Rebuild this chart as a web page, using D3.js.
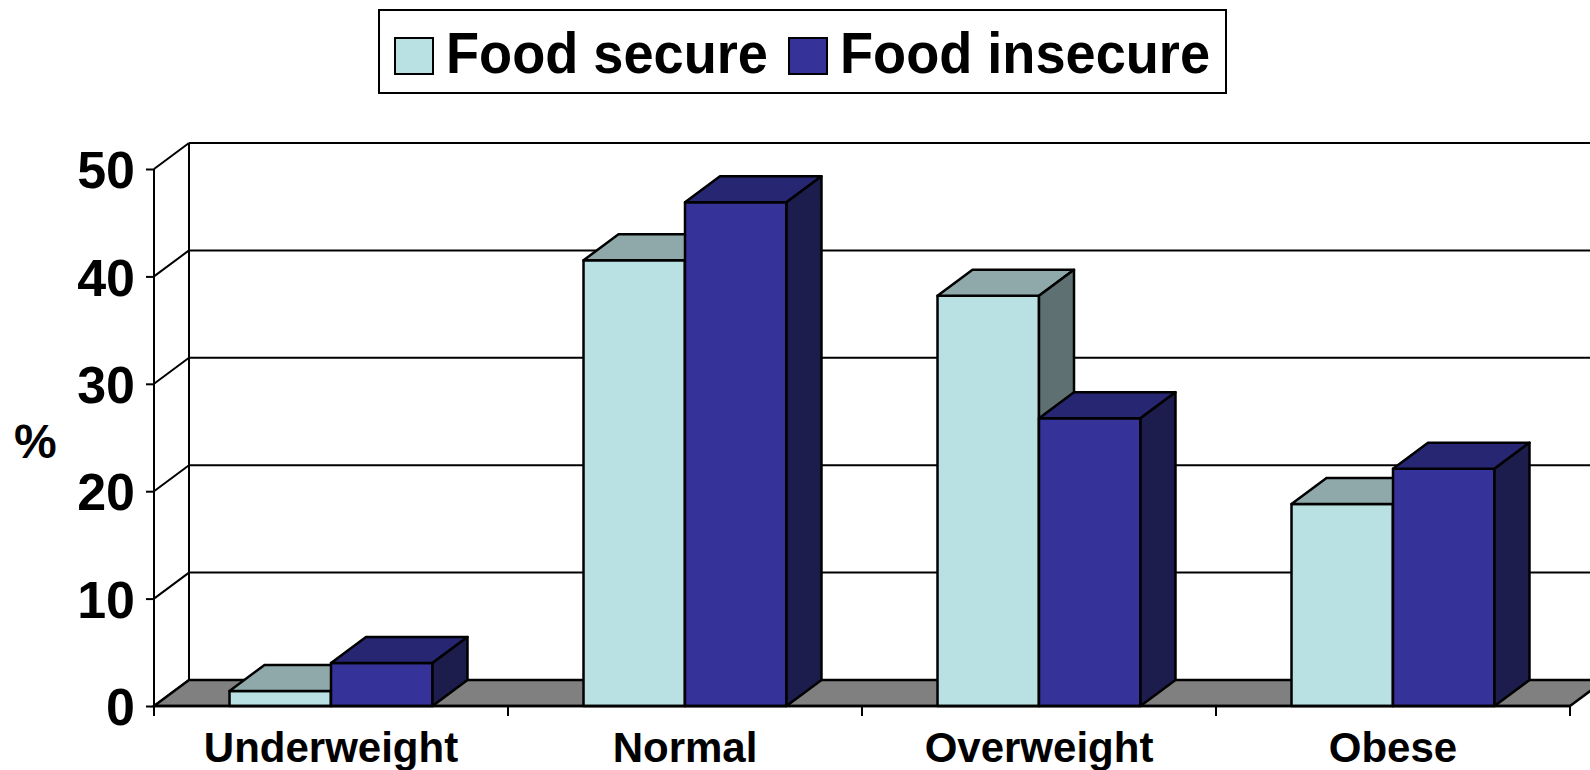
<!DOCTYPE html>
<html>
<head>
<meta charset="utf-8">
<script src="https://cdn.jsdelivr.net/npm/d3@7"></script>
<style>
  html, body { margin: 0; padding: 0; background: #fff; }
  svg { display: block; font-family: "Liberation Sans", Arial, sans-serif; font-weight: bold; }
</style>
</head>
<body>
<div id="chart"></div>
<script>
const categories = ['Underweight', 'Normal', 'Overweight', 'Obese']
const series = ['Food secure', 'Food insecure']
const foodSecure = [1.4, 41.5, 38.2, 18.8]
const foodInsecure = [4.0, 46.9, 26.8, 22.1]
const yTicks = [0, 10, 20, 30, 40, 50]

const W = 1590, H = 770
const depthX = 35, depthY = -26
const colors = {
  'Food secure': { front: '#b9e0e3', top: '#8fa9ab', side: '#5f7072' },
  'Food insecure': { front: '#353399', top: '#262673', side: '#1c1c4d' }
}

const svg = d3.select('#chart').append('svg')
    .attr('width', W)
    .attr('height', H)

const x = d3.scaleBand()
    .domain(categories)
    .range([154, 1570])

const xs = d3.scaleBand()
    .domain(series)
    .range([0, x.bandwidth()])
    .paddingOuter(0.744)

const y = d3.scaleLinear()
    .domain([0, 50])
    .range([706, 169])

const x0 = x.range()[0], x1 = x.range()[1]

// back wall gridlines + top border
svg.append('g')
  .selectAll('line')
    .data(yTicks.filter(d => d > 0))
  .enter().append('line')
    .attr('x1', x0 + depthX).attr('x2', W + 10)
    .attr('y1', d => y(d) + depthY).attr('y2', d => y(d) + depthY)
    .attr('stroke', '#000').attr('stroke-width', 2)

// back wall left edge
svg.append('line')
    .attr('x1', x0 + depthX).attr('x2', x0 + depthX)
    .attr('y1', y(50) + depthY).attr('y2', y(0) + depthY)
    .attr('stroke', '#000').attr('stroke-width', 2)

// side wall diagonals
svg.append('g')
  .selectAll('line')
    .data(yTicks)
  .enter().append('line')
    .attr('x1', x0).attr('x2', x0 + depthX)
    .attr('y1', d => y(d)).attr('y2', d => y(d) + depthY)
    .attr('stroke', '#000').attr('stroke-width', 2)

// floor
svg.append('path')
    .attr('d', `M${x0},${y(0)}L${x1},${y(0)}L${x1 + depthX},${y(0) + depthY}L${x0 + depthX},${y(0) + depthY}Z`)
    .attr('fill', '#808080')
    .attr('stroke', '#000').attr('stroke-width', 2.5)

// bars
const rows = []
categories.forEach((c, i) => {
  rows.push({ cat: c, s: 'Food secure', v: foodSecure[i] })
  rows.push({ cat: c, s: 'Food insecure', v: foodInsecure[i] })
})

const bw = xs.bandwidth()
const bars = svg.append('g')
  .selectAll('g')
    .data(rows)
  .enter().append('g')
    .attr('stroke', '#000')
    .attr('stroke-width', 2.5)
    .attr('stroke-linejoin', 'round')

bars.append('rect')
    .attr('x', d => x(d.cat) + xs(d.s))
    .attr('y', d => y(d.v))
    .attr('width', bw)
    .attr('height', d => y(0) - y(d.v))
    .attr('fill', d => colors[d.s].front)

bars.append('path')
    .attr('d', d => {
      const l = x(d.cat) + xs(d.s), t = y(d.v)
      return `M${l},${t}L${l + depthX},${t + depthY}L${l + bw + depthX},${t + depthY}L${l + bw},${t}Z`
    })
    .attr('fill', d => colors[d.s].top)

bars.append('path')
    .attr('d', d => {
      const r = x(d.cat) + xs(d.s) + bw, t = y(d.v), b = y(0)
      return `M${r},${t}L${r + depthX},${t + depthY}L${r + depthX},${b + depthY}L${r},${b}Z`
    })
    .attr('fill', d => colors[d.s].side)

// y axis
const yAxis = svg.append('g')
    .attr('transform', `translate(${x0},0)`)
    .call(d3.axisLeft(y).tickValues(yTicks).tickSize(8).tickPadding(11))
yAxis.select('.domain').attr('stroke-width', 2).attr('d', `M0,${y(50)}V${y(0) + 8}`)
yAxis.selectAll('.tick line').attr('stroke-width', 2)
yAxis.selectAll('text')
    .attr('font-size', 52)
    .attr('font-family', '"Liberation Sans", Arial, sans-serif')
    .attr('font-weight', 'bold')
    .attr('fill', '#000')
    .attr('dy', '0.36em')

// x axis
const xAxis = svg.append('g')
    .attr('transform', `translate(0,${y(0)})`)
    .call(d3.axisBottom(x).tickSize(0).tickPadding(52))
xAxis.select('.domain').attr('stroke-width', 2.5).attr('d', `M${x0},0H${x1}`)
xAxis.selectAll('text')
    .attr('font-size', 42)
    .attr('font-family', '"Liberation Sans", Arial, sans-serif')
    .attr('font-weight', 'bold')
    .attr('fill', '#000')
    .attr('dy', '0.1em')
svg.append('g')
  .selectAll('line')
    .data(categories.map(c => x(c)).concat([x1]))
  .enter().append('line')
    .attr('x1', d => d).attr('x2', d => d)
    .attr('y1', y(0)).attr('y2', y(0) + 10)
    .attr('stroke', '#000').attr('stroke-width', 2)

// y title
svg.append('text')
    .attr('x', 14)
    .attr('y', 458)
    .attr('font-size', 48)
    .text('%')

// legend
const legend = svg.append('g')
legend.append('rect')
    .attr('x', 379).attr('y', 10)
    .attr('width', 847).attr('height', 83)
    .attr('fill', '#fff')
    .attr('stroke', '#000').attr('stroke-width', 2)

const legendItems = [
  { s: series[0], sx: 395, tx: 446, tw: 322 },
  { s: series[1], sx: 789, tx: 840, tw: 370 }
]
legend.selectAll('rect.sw')
    .data(legendItems)
  .enter().append('rect')
    .attr('class', 'sw')
    .attr('x', d => d.sx).attr('y', 38)
    .attr('width', 38).attr('height', 36)
    .attr('fill', d => colors[d.s].front)
    .attr('stroke', '#000').attr('stroke-width', 2)
legend.selectAll('text')
    .data(legendItems)
  .enter().append('text')
    .attr('x', d => d.tx).attr('y', 73)
    .attr('font-size', 57)
    .attr('textLength', d => d.tw)
    .attr('lengthAdjust', 'spacingAndGlyphs')
    .text(d => d.s)
</script>
</body>
</html>
